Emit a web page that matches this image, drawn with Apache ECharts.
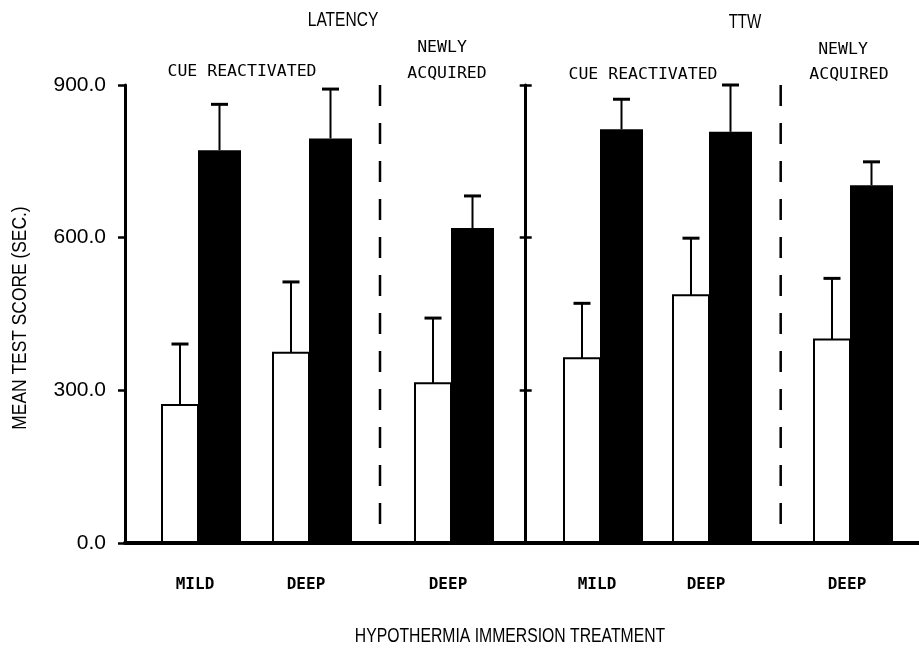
<!DOCTYPE html>
<html><head><meta charset="utf-8">
<script src="https://cdn.jsdelivr.net/npm/echarts@6/dist/echarts.min.js"></script>
<style>html,body{margin:0;padding:0;background:#fff}#c{width:919px;height:649px}</style>
</head><body><div id="c"></div>
<script>
// ---- data ----
const categories = ['MILD', 'DEEP', 'DEEP', 'MILD', 'DEEP', 'DEEP'];
const whiteMean = [271, 374, 314, 363, 487, 400];
const whiteSem  = [120, 139, 128, 108, 112, 120];
const blackMean = [772, 795, 619, 813, 808, 703];
const blackSem  = [90, 97, 63, 59, 92, 46];
const yTicks = [0, 300, 600, 900];

// ---- layout (hidden x scale, one unit per pixel of plot width) ----
const groupX = [73, 184, 326, 475, 584, 725];
const dividerX = [255, 655.7];
const panelAxisX = 400.7;

const SANS = "'Liberation Sans', Arial, sans-serif";
const MONO = "'DejaVu Sans Mono', 'Liberation Mono', monospace";

const chart = echarts.init(document.getElementById('c'), null, {renderer: 'canvas'});

const barData = categories.map((c, i) => [groupX[i], whiteMean[i], whiteSem[i], blackMean[i], blackSem[i], c]);

function renderBars(params, api) {
  const cx = api.value(0);
  const base = api.coord([cx, 0]);
  const wTop = api.coord([cx, api.value(1)]);
  const wErr = api.coord([cx, api.value(1) + api.value(2)]);
  const bTop = api.coord([cx, api.value(3)]);
  const bErr = api.coord([cx, api.value(3) + api.value(4)]);
  const x0 = base[0];
  const wCx = x0 - 18, bCx = x0 + 21.5;
  const cap = 8.5;
  const ls = {stroke: '#000', lineWidth: 2};
  return {
    type: 'group',
    children: [
      {type: 'line', shape: {x1: wCx, y1: wTop[1], x2: wCx, y2: wErr[1]}, style: ls},
      {type: 'line', shape: {x1: wCx - cap, y1: wErr[1], x2: wCx + cap, y2: wErr[1]}, style: {stroke: '#000', lineWidth: 3}},
      {type: 'line', shape: {x1: bCx, y1: bTop[1], x2: bCx, y2: bErr[1]}, style: ls},
      {type: 'line', shape: {x1: bCx - cap, y1: bErr[1], x2: bCx + cap, y2: bErr[1]}, style: {stroke: '#000', lineWidth: 3}},
      {type: 'rect', shape: {x: x0 - 36, y: wTop[1], width: 36, height: base[1] - wTop[1]}, style: {fill: '#fff', stroke: '#000', lineWidth: 2}},
      {type: 'rect', shape: {x: x0, y: bTop[1], width: 43, height: base[1] - bTop[1]}, style: {fill: '#000'}},
      {type: 'text', x: x0 - 3, y: base[1] + 42, style: {text: api.value(5), fill: '#000', font: 'bold 16px ' + MONO, align: 'center', verticalAlign: 'middle'}}
    ]
  };
}

function renderDivider(params, api) {
  const x = api.value(0);
  const p0 = api.coord([x, 900]);
  const p1 = api.coord([x, 0]);
  return {type: 'line', shape: {x1: p0[0], y1: p0[1], x2: p1[0], y2: p1[1]},
    style: {stroke: '#000', lineWidth: 2.5, lineDash: [21, 17]}};
}

const yBase = {
  type: 'value', min: 0, max: 900, interval: 300,
  splitLine: {show: false}
};

function txt(s, x, y, font, sx, rot) {
  return {type: 'text', x: x, y: y, silent: true, scaleX: sx || 1, rotation: rot || 0,
    style: {text: s, font: font, fill: '#000', align: 'center', verticalAlign: 'middle'}};
}

const option = {
  backgroundColor: '#fff',
  animation: false,
  grid: {left: 125, right: 0, top: 85, bottom: 106, outerBoundsMode: 'none', containLabel: false},
  xAxis: {
    type: 'value', min: 0, max: 794, z: 10,
    axisLine: {show: true, onZero: false, lineStyle: {color: '#000', width: 4}},
    axisTick: {show: false}, axisLabel: {show: false}, splitLine: {show: false}
  },
  yAxis: [
    Object.assign({}, yBase, {
      position: 'left', z: 10,
      axisLine: {show: true, lineStyle: {color: '#000', width: 3}},
      axisTick: {show: true, length: 7, lineStyle: {color: '#000', width: 2.5}},
      axisLabel: {formatter: v => v.toFixed(1), margin: 19, fontFamily: SANS, fontSize: 21, color: '#000'}
    }),
    Object.assign({}, yBase, {
      position: 'left', offset: -panelAxisX, z: 10,
      axisLine: {show: true, lineStyle: {color: '#000', width: 3}},
      axisTick: {show: true, length: 6, lineStyle: {color: '#000', width: 2.5}},
      axisLabel: {show: false}
    }),
    Object.assign({}, yBase, {
      position: 'left', offset: -panelAxisX, z: 10,
      axisLine: {show: false},
      axisTick: {show: true, inside: true, length: 6, lineStyle: {color: '#000', width: 2.5}},
      axisLabel: {show: false}
    })
  ],
  graphic: [
    txt('LATENCY', 343, 20, '21px ' + SANS, 0.74),
    txt('TTW', 745, 22, '21px ' + SANS, 0.72),
    txt('CUE REACTIVATED', 242, 72, '16.5px ' + MONO),
    txt('CUE REACTIVATED', 643, 75, '16.5px ' + MONO),
    txt('NEWLY', 442, 48, '16.5px ' + MONO),
    txt('ACQUIRED', 447, 74, '16.5px ' + MONO),
    txt('NEWLY', 843, 50, '16.5px ' + MONO),
    txt('ACQUIRED', 849, 75, '16.5px ' + MONO),
    txt('HYPOTHERMIA IMMERSION TREATMENT', 510, 636, '21px ' + SANS, 0.75),
    txt('MEAN TEST SCORE (SEC.)', 20, 318, '20px ' + SANS, 0.87, Math.PI / 2)
  ],
  series: [
    {type: 'custom', renderItem: renderDivider, data: dividerX.map(x => [x]), silent: true, z: 3},
    {type: 'custom', renderItem: renderBars, data: barData, silent: true, z: 5}
  ]
};

chart.setOption(option);
</script>
</body></html>
